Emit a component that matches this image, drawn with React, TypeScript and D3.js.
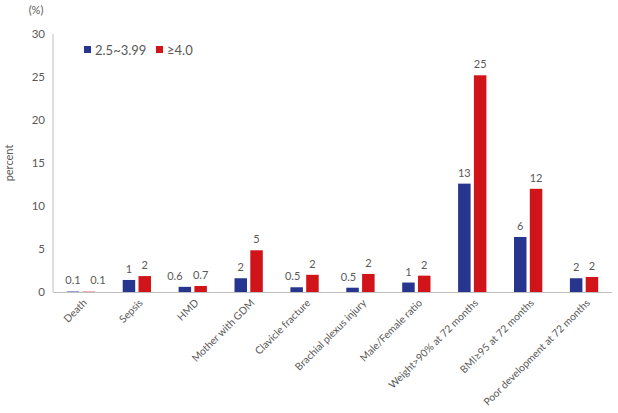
import React from "react";
import * as d3 from "d3";

const categories = [
  "Death",
  "Sepsis",
  "HMD",
  "Mother with GDM",
  "Clavicle fracture",
  "Brachial plexus injury",
  "Male/Female ratio",
  "Weight>90% at 72 months",
  "BMI≥95 at 72 months",
  "Poor development at 72 months",
];
const seriesNames = ["2.5~3.99", "≥4.0"];
const valuesLow = [0.1, 1.4, 0.6, 1.6, 0.55, 0.5, 1.1, 12.6, 6.4, 1.6];
const valuesHigh = [0.1, 1.85, 0.7, 4.85, 2.0, 2.1, 1.9, 25.2, 12.0, 1.75];
const labelsLow = ["0.1", "1", "0.6", "2", "0.5", "0.5", "1", "13", "6", "2"];
const labelsHigh = ["0.1", "2", "0.7", "5", "2", "2", "2", "25", "12", "2"];
const yTicks = [0, 5, 10, 15, 20, 25, 30];

// label nudges (layout only), to avoid overlapping labels as in the original
const nudgeLow = [0, 0, -10, 0, -4, -4, 0, 0, 0, 0];
const nudgeHigh = [9, 0, 0, 0, 0, 0, 0, 0, 0, 0];

const W = 618;
const H = 413;
const colors = ["#26368E", "#D0141A"];
const death = ["#8C93C8", "#F0A0A0"];
const font = "Lato, 'Open Sans', sans-serif";
const textColor = "#595959";

export default function App() {
  const left = 53;
  const right = 612;
  const top = 34;
  const bottom = 292;
  const x = d3.scaleBand<string>().domain(categories).range([left, right]);
  const y = d3.scaleLinear().domain([0, 30]).range([bottom, top]);
  const barW = 12.5;
  const gap = 3.3;
  const series = [valuesLow, valuesHigh];
  const labels = [labelsLow, labelsHigh];
  const nudges = [nudgeLow, nudgeHigh];

  return (
    <svg
      width={W}
      height={H}
      style={{ position: "absolute", left: 0, top: 0, background: "#fff" }}
      fontFamily={font}
    >
      <text x={36} y={14} fontSize={11} fill={textColor} textAnchor="middle">
        (%)
      </text>
      <text
        transform={`translate(13,${(top + bottom) / 2}) rotate(-90)`}
        fontSize={11}
        fill={textColor}
        textAnchor="middle"
      >
        percent
      </text>
      <line x1={left} x2={left} y1={top} y2={bottom} stroke="#BFBFBF" strokeWidth={1} />
      {yTicks.map((t) => (
        <text
          key={t}
          x={45}
          y={y(t)}
          dy="0.35em"
          fontSize={11.5}
          fill={textColor}
          textAnchor="end"
        >
          {t}
        </text>
      ))}
      {categories.map((c, i) => {
        const cx = (x(c) as number) + x.bandwidth() / 2;
        return (
          <g key={c}>
            {series.map((vals, s) => {
              const bx = s === 0 ? cx - gap / 2 - barW : cx + gap / 2;
              const v = vals[i];
              const fill = i === 0 ? death[s] : colors[s];
              return (
                <g key={s}>
                  <rect x={bx} y={y(v)} width={barW} height={bottom - y(v)} fill={fill} />
                  <text
                    x={bx + barW / 2 + nudges[s][i]}
                    y={y(v) - 7}
                    fontSize={11}
                    fill={textColor}
                    textAnchor="middle"
                  >
                    {labels[s][i]}
                  </text>
                </g>
              );
            })}
            <text
              transform={`translate(${cx + 4},${bottom + 9}) rotate(-45)`}
              fontSize={10.3}
              fill={textColor}
              textAnchor="end"
              dy="0.35em"
            >
              {c}
            </text>
          </g>
        );
      })}
      <line x1={left} x2={right} y1={bottom + 0.5} y2={bottom + 0.5} stroke="#BFBFBF" strokeWidth={1} />
      {seriesNames.map((n, s) => {
        const lx = s === 0 ? 84 : 156;
        return (
          <g key={n}>
            <rect x={lx} y={46} width={7} height={7} fill={colors[s]} />
            <text x={lx + 11} y={50} dy="0.35em" fontSize={13} fill={textColor}>
              {n}
            </text>
          </g>
        );
      })}
    </svg>
  );
}
